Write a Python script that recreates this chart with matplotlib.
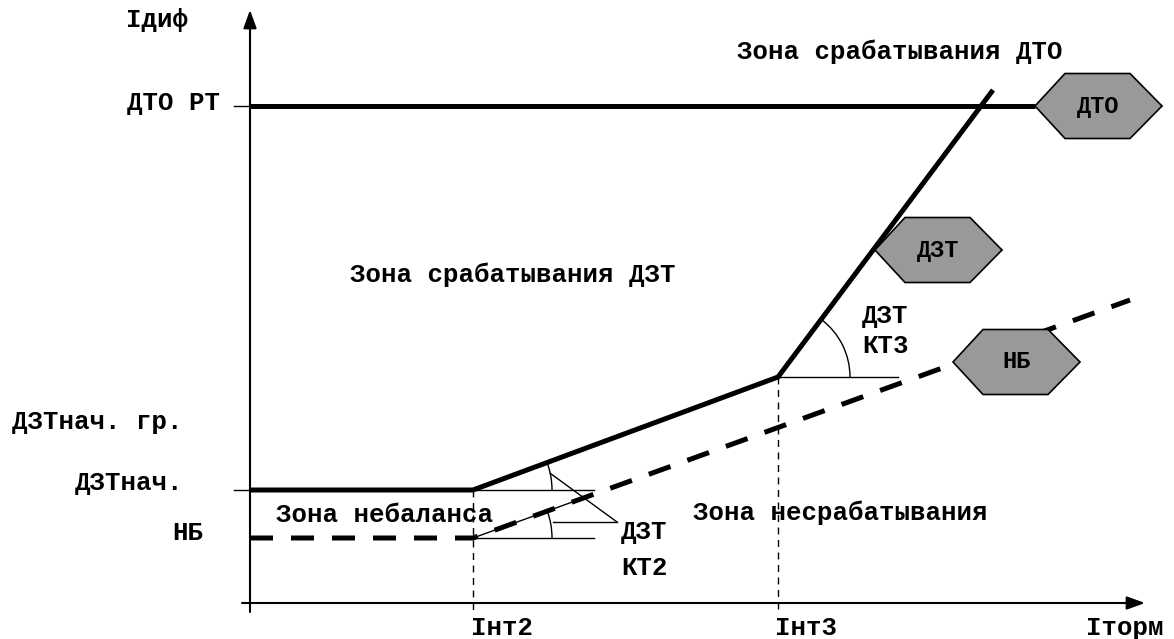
import numpy as np
import matplotlib
matplotlib.use("Agg")
import matplotlib.pyplot as plt
from matplotlib.patches import Arc, Polygon

plt.rcParams["font.family"] = ["Liberation Mono", "DejaVu Sans Mono"]
plt.rcParams["font.weight"] = "bold"

# characteristic points (Iторм, Iдиф), arbitrary units
i_nt2 = 223
i_nt3 = 528
dzt_nach = 113
nb_level = 65
dto_level = 497
dzt_x = [0, i_nt2, i_nt3, 743]
dzt_y = [dzt_nach, dzt_nach, 226, 513]
nb_x = [0, i_nt2, 880]
nb_y = [nb_level, nb_level, 303]
dto_x = [0, 785]
dto_y = [dto_level, dto_level]

# hexagon tags: (label, left vertex x, y)
tags = [("ДТО", 785, 497), ("ДЗТ", 625, 353), ("НБ", 703, 241)]

fig = plt.figure(figsize=(11.74, 6.39), dpi=100, facecolor="white")
ax = fig.add_axes([0, 0, 1, 1])
ax.set_xlim(-250, 924)
ax.set_ylim(-36, 603)
ax.set_aspect("equal")
ax.axis("off")

FS = 18.5

# axes with arrows
arrow = dict(arrowstyle="-|>,head_length=0.55,head_width=0.2", lw=1.5,
             color="black", mutation_scale=20, shrinkA=0, shrinkB=0)
ax.annotate("", xy=(0, 593), xytext=(0, -9), arrowprops=arrow)
ax.annotate("", xy=(895, 0), xytext=(-8, 0), arrowprops=arrow)
ax.plot([-16, 0], [dto_level, dto_level], color="black", lw=1)
ax.plot([-16, 0], [dzt_nach, dzt_nach], color="black", lw=1)

# dashed guides
ax.plot([i_nt2, i_nt2], [dzt_y[1], -9], color="black", lw=1, ls=(0, (5, 4)))
ax.plot([i_nt3, i_nt3], [dzt_y[2], -9], color="black", lw=1, ls=(0, (5, 4)))

# characteristics
ax.plot(dto_x, dto_y, color="black", lw=3.6, solid_capstyle="butt", zorder=3)
ax.plot(dzt_x, dzt_y, color="black", lw=3.6, solid_capstyle="butt", zorder=3)
ax.plot(nb_x, nb_y, color="black", lw=3.6, ls=(0, (4.6, 3.6)), zorder=3)


def angle_mark(x0, y0, x1, y1, r, hlen, thin=0):
    ang = np.degrees(np.arctan2(y1 - y0, x1 - x0))
    ax.plot([x0, x0 + hlen], [y0, y0], color="black", lw=1)
    ax.add_patch(Arc((x0, y0), 2 * r, 2 * r, theta1=0, theta2=ang, color="black", lw=1))
    if thin:
        a = np.radians(ang)
        ax.plot([x0, x0 + thin * np.cos(a)], [y0, y0 + thin * np.sin(a)], color="black", lw=1)
    return ang


angle_mark(dzt_x[2], dzt_y[2], dzt_x[3], dzt_y[3], 72, 120)
a_up = angle_mark(dzt_x[1], dzt_y[1], dzt_x[2], dzt_y[2], 79, 121)
a_lo = angle_mark(nb_x[1], nb_y[1], nb_x[2], nb_y[2], 79, 121, thin=110)
# leaders to КТ2 label
p = np.radians(a_up * 0.6)
ax.plot([i_nt2 + 79 * np.cos(p), 367], [dzt_nach + 79 * np.sin(p), 81], color="black", lw=1)
ax.plot([303, 367], [81, 81], color="black", lw=1)

# hexagon tags
for lab, xl, yc in tags:
    pts = [(xl, yc), (xl + 30, yc + 32.5), (xl + 95, yc + 32.5), (xl + 127, yc),
           (xl + 95, yc - 32.5), (xl + 30, yc - 32.5)]
    ax.add_patch(Polygon(pts, closed=True, facecolor="#999999", edgecolor="black", lw=1.2, zorder=5))
    ax.text(xl + 63, yc, lab, ha="center", va="center", fontsize=FS - 1.5, zorder=6)

# texts
ax.text(-93, 583, "Iдиф", ha="center", va="center", fontsize=FS)
ax.text(-30, dto_level + 3, "ДТО РТ", ha="right", va="center", fontsize=FS)
ax.text(-68, 181, "ДЗТнач. гр.", ha="right", va="center", fontsize=FS)
ax.text(-67, 120, "ДЗТнач.", ha="right", va="center", fontsize=FS)
ax.text(-47, 70, "НБ", ha="right", va="center", fontsize=FS)
ax.text(134, 88, "Зона небаланса", ha="center", va="center", fontsize=FS)
ax.text(371, 71, "ДЗТ", ha="left", va="center", fontsize=FS)
ax.text(371, 35, "КТ2", ha="left", va="center", fontsize=FS)
ax.text(590, 90, "Зона несрабатывания", ha="center", va="center", fontsize=FS)
ax.text(i_nt2 - 2, -25, "Iнт2", ha="left", va="center", fontsize=FS)
ax.text(i_nt3 - 3, -25, "Iнт3", ha="left", va="center", fontsize=FS)
ax.text(875, -25, "Iторм", ha="center", va="center", fontsize=FS)
ax.text(650, 551, "Зона срабатывания ДТО", ha="center", va="center", fontsize=FS)
ax.text(263, 328, "Зона срабатывания ДЗТ", ha="center", va="center", fontsize=FS)
ax.text(612, 287, "ДЗТ", ha="left", va="center", fontsize=FS)
ax.text(612, 257, "КТ3", ha="left", va="center", fontsize=FS)

fig.savefig("out.png", dpi=100, facecolor="white")
